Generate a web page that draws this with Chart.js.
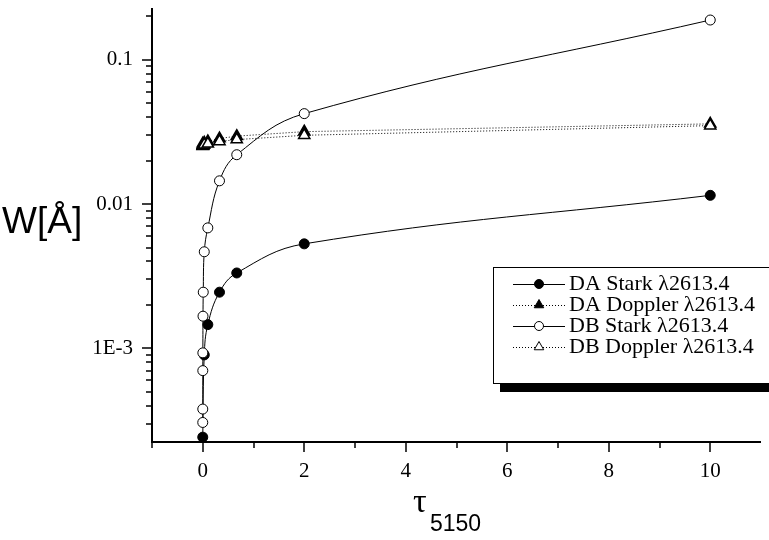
<!DOCTYPE html>
<html>
<head>
<meta charset="utf-8">
<script src="https://cdn.jsdelivr.net/npm/chart.js@4"></script>
<style>
    body { margin: 0; background: #fff; }
    #grafica { display: block; }
</style>
</head>
<body>
<canvas id="grafica" width="769" height="540"></canvas>
<script>
// Datos
const tauDA = [0, 0.03, 0.1, 0.33, 0.67, 2, 10];
const tauDB = [0, 0.0005, 0.001, 0.002, 0.005, 0.01, 0.03, 0.1, 0.33, 0.67, 2, 10];

const wDAStark = [2.42e-4, 9.0e-4, 1.46e-3, 2.45e-3, 3.33e-3, 5.3e-3, 0.0115];
const wDADoppler = [0.0262, 0.0266, 0.0272, 0.0285, 0.0296, 0.0318, 0.0360];
const wDBStark = [3.06e-4, 3.79e-4, 7.0e-4, 9.3e-4, 1.67e-3, 2.45e-3, 4.67e-3, 6.84e-3, 0.0145, 0.022, 0.0424, 0.189];
const wDBDoppler = [0.0252, 0.0253, 0.0254, 0.0255, 0.0256, 0.0257, 0.0258, 0.0262, 0.0272, 0.028, 0.0300, 0.0350];

const xMajorTicks = [0, 2, 4, 6, 8, 10];
const xMinorTicks = [-1, 1, 3, 5, 7, 9];
const yMajorTicks = [1e-3, 1e-2, 1e-1];
const yTickLabels = ['1E-3', '0.01', '0.1'];

const legendLabels = ['DA Stark \u03bb2613.4', 'DA Doppler \u03bb2613.4', 'DB Stark \u03bb2613.4', 'DB Doppler \u03bb2613.4'];

// Función para armar puntos {x, y}
const toPoints = (xs, ys) => xs.map((x, i) => ({ x: x, y: ys[i] }));

const serifFont = '"Liberation Serif", "Times New Roman", serif';
const sansFont = '"Liberation Sans", Arial, sans-serif';

// Estilos por serie
const series = [
    { label: legendLabels[0], data: toPoints(tauDA, wDAStark), style: 'circle', fill: '#000', dash: [], tension: 0.4, order: 2, radius: 5, bw: 1 },
    { label: legendLabels[1], data: toPoints(tauDA, wDADoppler), style: 'triangle', fill: '#000', dash: [1, 2], tension: 0, order: 3, radius: 6.5, bw: 1.5 },
    { label: legendLabels[2], data: toPoints(tauDB, wDBStark), style: 'circle', fill: '#fff', dash: [], tension: 0.4, order: 0, radius: 5, bw: 1 },
    { label: legendLabels[3], data: toPoints(tauDB, wDBDoppler), style: 'triangle', fill: '#fff', dash: [1, 2], tension: 0, order: 1, radius: 6.5, bw: 1.5 }
];

// Plugin para ejes y marcas
const axesPlugin = {
    id: 'ejes',
    afterDraw(chart) {
        const { ctx, chartArea: a, scales: { x, y } } = chart;
        ctx.save();
        ctx.strokeStyle = '#000';
        ctx.lineWidth = 2;
        ctx.beginPath();
        ctx.moveTo(a.left, a.top);
        ctx.lineTo(a.left, a.bottom);
        ctx.lineTo(a.right, a.bottom);
        ctx.stroke();

        ctx.lineWidth = 1.5;
        ctx.beginPath();
        xMajorTicks.forEach(v => {
            const px = Math.round(x.getPixelForValue(v));
            ctx.moveTo(px, a.bottom); ctx.lineTo(px, a.bottom + 10);
        });
        xMinorTicks.forEach(v => {
            const px = Math.round(x.getPixelForValue(v));
            ctx.moveTo(px, a.bottom); ctx.lineTo(px, a.bottom + 6);
        });
        yMajorTicks.forEach(v => {
            const py = Math.round(y.getPixelForValue(v));
            ctx.moveTo(a.left, py); ctx.lineTo(a.left - 10, py);
        });
        [1e-4, 1e-3, 1e-2, 1e-1].forEach(d => {
            for (let m = 2; m <= 9; m++) {
                const v = d * m;
                if (v < y.min || v > y.max) continue;
                const py = Math.round(y.getPixelForValue(v));
                ctx.moveTo(a.left, py); ctx.lineTo(a.left - 6, py);
            }
        });
        ctx.stroke();
        ctx.restore();
    }
};

// Plugin para títulos de ejes y leyenda
const textPlugin = {
    id: 'textos',
    afterDraw(chart) {
        const { ctx } = chart;
        ctx.save();
        ctx.fillStyle = '#000';
        ctx.textBaseline = 'alphabetic';
        ctx.textAlign = 'left';
        ctx.font = '37px ' + sansFont;
        ctx.fillText('W[\u00c5]', 2, 233);

        ctx.font = '34px ' + serifFont;
        ctx.fillText('\u03c4', 413, 512);
        ctx.font = '23px ' + sansFont;
        ctx.fillText('5150', 430, 531);

        // Leyenda con sombra
        const bx = 493, by = 267, bw = 290, bh = 116;
        ctx.fillRect(bx + 7, by + 9, bw, bh);
        ctx.fillStyle = '#fff';
        ctx.fillRect(bx, by, bw, bh);
        ctx.strokeStyle = '#000';
        ctx.lineWidth = 1;
        ctx.strokeRect(bx + 0.5, by + 0.5, bw, bh);

        const rows = [284, 305, 326, 347];
        series.forEach((s, i) => {
            const ry = rows[i];
            ctx.strokeStyle = '#000';
            ctx.lineWidth = 1;
            ctx.setLineDash(s.dash);
            ctx.beginPath();
            ctx.moveTo(513, ry + 0.5);
            ctx.lineTo(565, ry + 0.5);
            ctx.stroke();
            ctx.setLineDash([]);
            ctx.fillStyle = s.fill;
            Chart.helpers.drawPoint(ctx, {
                pointStyle: s.style,
                radius: s.style === 'circle' ? 4.5 : 5.5,
                rotation: 0,
                borderWidth: 1
            }, 539, ry);
            ctx.fillStyle = '#000';
            ctx.font = '22px ' + serifFont;
            ctx.textBaseline = 'middle';
            ctx.fillText(s.label, 569, ry);
        });
        ctx.restore();
    }
};

const datasets = series.map(s => ({
    label: s.label,
    data: s.data,
    order: s.order,
    borderColor: '#000',
    borderWidth: 1,
    borderDash: s.dash,
    tension: s.tension,
    pointStyle: s.style,
    pointRadius: s.radius,
    pointBackgroundColor: s.fill,
    pointBorderColor: '#000',
    pointBorderWidth: s.bw,
    fill: false,
    clip: false
}));

const ctx = document.getElementById('grafica');
const chart = new Chart(ctx, {
    type: 'line',
    data: { datasets: datasets },
    options: {
        responsive: false,
        animation: false,
        devicePixelRatio: 1,
        layout: { padding: { top: 7, right: 0, left: 0, bottom: 0 } },
        plugins: {
            legend: { display: false },
            tooltip: { enabled: false }
        },
        scales: {
            x: {
                type: 'linear',
                min: -1,
                max: 11,
                grid: { display: false, drawTicks: false },
                border: { display: false },
                afterBuildTicks: (scale) => {
                    scale.ticks = xMajorTicks.map(v => ({ value: v }));
                },
                afterFit: (scale) => {
                    scale.height = 98;
                    scale.paddingLeft = 0;
                    scale.paddingRight = 0;
                },
                ticks: {
                    padding: 17,
                    color: '#000',
                    font: { family: serifFont, size: 21 },
                    callback: (v) => String(v)
                }
            },
            y: {
                type: 'logarithmic',
                min: 2.24e-4,
                max: 0.229,
                grid: { display: false, drawTicks: false },
                border: { display: false },
                afterBuildTicks: (scale) => {
                    scale.ticks = yMajorTicks.map(v => ({ value: v }));
                },
                afterFit: (scale) => {
                    scale.width = 152;
                    scale.paddingTop = 0;
                    scale.paddingBottom = 0;
                },
                ticks: {
                    padding: 19,
                    color: '#000',
                    font: { family: serifFont, size: 21 },
                    callback: (v) => yTickLabels[yMajorTicks.indexOf(v)] || ''
                }
            }
        }
    },
    plugins: [axesPlugin, textPlugin]
});
</script>
</body>
</html>
